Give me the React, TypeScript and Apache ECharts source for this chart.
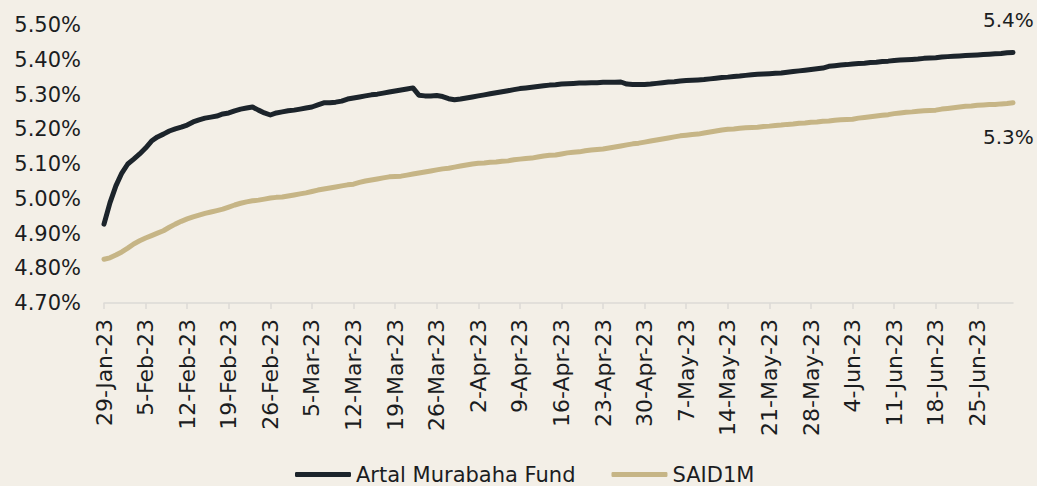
import React, { useEffect, useRef } from "react";
import * as echarts from "echarts";

const START_DATE = "2023-01-29";
const DAY_COUNT = 154;
const MONTHS = ["Jan", "Feb", "Mar", "Apr", "May", "Jun", "Jul", "Aug", "Sep", "Oct", "Nov", "Dec"];

const categories: string[] = (() => {
  const out: string[] = [];
  const d0 = new Date(START_DATE + "T00:00:00Z");
  for (let i = 0; i < DAY_COUNT; i++) {
    const d = new Date(d0.getTime() + i * 86400000);
    out.push(`${d.getUTCDate()}-${MONTHS[d.getUTCMonth()]}-${String(d.getUTCFullYear()).slice(2)}`);
  }
  return out;
})();

const artalFund = [
  4.927, 4.988, 5.037, 5.074, 5.100, 5.114, 5.129, 5.146, 5.166, 5.178,
  5.186, 5.195, 5.201, 5.206, 5.212, 5.221, 5.227, 5.232, 5.235, 5.238,
  5.244, 5.247, 5.253, 5.258, 5.261, 5.264, 5.255, 5.247, 5.241, 5.247,
  5.250, 5.253, 5.255, 5.258, 5.261, 5.264, 5.270, 5.276, 5.276, 5.278,
  5.281, 5.287, 5.290, 5.293, 5.296, 5.299, 5.301, 5.304, 5.307, 5.310,
  5.313, 5.316, 5.319, 5.298, 5.296, 5.296, 5.297, 5.294, 5.288, 5.285,
  5.287, 5.290, 5.293, 5.296, 5.299, 5.302, 5.305, 5.308, 5.311, 5.314,
  5.317, 5.319, 5.321, 5.323, 5.325, 5.327, 5.328, 5.330, 5.331, 5.332,
  5.333, 5.333, 5.334, 5.334, 5.335, 5.335, 5.335, 5.336, 5.330, 5.329,
  5.329, 5.329, 5.330, 5.332, 5.334, 5.336, 5.337, 5.339, 5.340, 5.341,
  5.342, 5.343, 5.345, 5.347, 5.349, 5.350, 5.352, 5.353, 5.355, 5.357,
  5.358, 5.359, 5.360, 5.361, 5.362, 5.364, 5.366, 5.368, 5.370, 5.372,
  5.374, 5.376, 5.381, 5.383, 5.385, 5.386, 5.388, 5.389, 5.390, 5.392,
  5.393, 5.395, 5.396, 5.398, 5.399, 5.400, 5.401, 5.402, 5.404, 5.405,
  5.406, 5.408, 5.409, 5.410, 5.411, 5.412, 5.413, 5.414, 5.415, 5.416,
  5.417, 5.418, 5.420, 5.421,
];

const said1m = [
  4.826, 4.830, 4.838, 4.847, 4.858, 4.870, 4.879, 4.887, 4.894, 4.901,
  4.908, 4.918, 4.927, 4.935, 4.942, 4.948, 4.953, 4.958, 4.962, 4.966,
  4.970, 4.976, 4.982, 4.987, 4.991, 4.994, 4.996, 4.999, 5.002, 5.004,
  5.005, 5.008, 5.011, 5.014, 5.017, 5.021, 5.025, 5.028, 5.031, 5.034,
  5.037, 5.040, 5.042, 5.047, 5.051, 5.054, 5.057, 5.060, 5.063, 5.064,
  5.065, 5.068, 5.071, 5.074, 5.077, 5.080, 5.083, 5.086, 5.088, 5.091,
  5.094, 5.097, 5.100, 5.102, 5.103, 5.105, 5.106, 5.108, 5.109, 5.112,
  5.114, 5.116, 5.117, 5.120, 5.123, 5.125, 5.126, 5.129, 5.132, 5.134,
  5.135, 5.138, 5.140, 5.142, 5.143, 5.146, 5.149, 5.152, 5.155, 5.158,
  5.160, 5.163, 5.166, 5.169, 5.172, 5.175, 5.178, 5.181, 5.183, 5.185,
  5.186, 5.189, 5.192, 5.195, 5.198, 5.200, 5.201, 5.203, 5.204, 5.205,
  5.206, 5.208, 5.209, 5.211, 5.212, 5.214, 5.215, 5.217, 5.218, 5.220,
  5.221, 5.223, 5.224, 5.226, 5.227, 5.228, 5.229, 5.232, 5.234, 5.236,
  5.238, 5.240, 5.242, 5.245, 5.247, 5.249, 5.250, 5.252, 5.253, 5.254,
  5.255, 5.258, 5.260, 5.262, 5.264, 5.266, 5.267, 5.269, 5.270, 5.271,
  5.271, 5.273, 5.274, 5.276,
];

const endLabels = ["5.4%", "5.3%"];
const seriesNames = ["Artal Murabaha Fund", "SAID1M"];

const FONT = "DejaVu Sans";
const TEXT = "#1b1d1f";
const DARK = "#1c242b";
const TAN = "#c6b586";
const BG = "#f3efe7";

export default function App() {
  const ref = useRef<HTMLDivElement>(null);
  useEffect(() => {
    if (!ref.current) return;
    const chart = echarts.init(ref.current, null, { renderer: "svg" });
    chart.setOption({
      animation: false,
      backgroundColor: BG,
      textStyle: { fontFamily: FONT },
      grid: { left: 104, right: 24, top: 25, bottom: 183, containLabel: false },
      legend: {
        top: 464,
        left: 295,
        padding: 0,
        icon: "roundRect",
        itemWidth: 56,
        itemHeight: 5,
        itemGap: 36,
        textStyle: { fontSize: 21, fontFamily: FONT, color: TEXT },
        data: seriesNames,
      },
      xAxis: {
        type: "category",
        data: categories,
        boundaryGap: false,
        axisLine: { lineStyle: { color: "#dcdad6", width: 1.5 } },
        axisTick: { interval: 6, length: 6, lineStyle: { color: "#dcdad6", width: 1.5 } },
        axisLabel: {
          interval: 6,
          rotate: 90,
          margin: 16,
          fontSize: 22,
          fontFamily: FONT,
          color: TEXT,
        },
        splitLine: { show: false },
      },
      yAxis: {
        type: "value",
        min: 4.7,
        max: 5.5,
        interval: 0.1,
        axisLine: { show: false },
        axisTick: { show: false },
        splitLine: { show: false },
        axisLabel: {
          margin: 23,
          fontSize: 21,
          fontFamily: FONT,
          color: TEXT,
          formatter: (v: number) => v.toFixed(2) + "%",
        },
      },
      series: [
        {
          name: seriesNames[0],
          type: "line",
          data: artalFund,
          showSymbol: false,
          symbol: "none",
          lineStyle: { color: DARK, width: 5, cap: "round", join: "round" },
          itemStyle: { color: DARK },
          endLabel: {
            show: true,
            formatter: endLabels[0],
            fontSize: 20,
            fontFamily: FONT,
            color: TEXT,
            offset: [-38, -32],
          },
        },
        {
          name: seriesNames[1],
          type: "line",
          data: said1m,
          showSymbol: false,
          symbol: "none",
          lineStyle: { color: TAN, width: 5, cap: "round", join: "round" },
          itemStyle: { color: TAN },
          endLabel: {
            show: true,
            formatter: endLabels[1],
            fontSize: 20,
            fontFamily: FONT,
            color: TEXT,
            offset: [-38, 34],
          },
        },
      ],
    });
    return () => chart.dispose();
  }, []);
  return (
    <div
      ref={ref}
      style={{ position: "fixed", left: 0, top: 0, width: 1037, height: 486 }}
    />
  );
}
